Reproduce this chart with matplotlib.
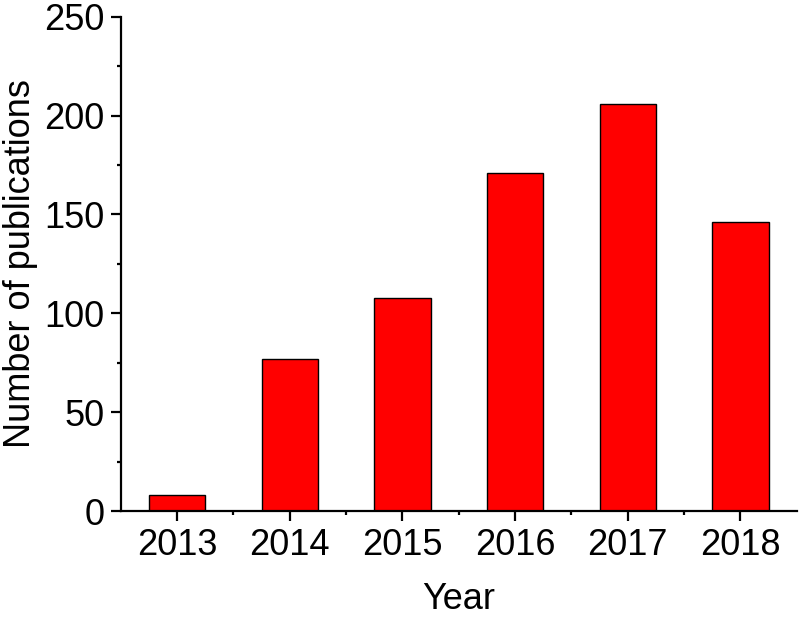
import matplotlib
matplotlib.use("Agg")
import matplotlib.pyplot as plt
from matplotlib.ticker import MultipleLocator, FixedLocator

plt.rcParams["font.family"] = ["Liberation Sans", "DejaVu Sans"]

years = ["2013", "2014", "2015", "2016", "2017", "2018"]
publications = [8, 77, 108, 171, 206, 146]

fig = plt.figure(figsize=(8, 6.18), dpi=100)
ax = fig.add_axes([0.151, 0.173, 0.845, 0.8])

pos = list(range(len(years)))
ax.bar(pos, publications, width=0.5, color="#ff0000", edgecolor="black", linewidth=1.0)

ax.set_xlim(-0.5, len(years) - 0.5)
ax.set_ylim(0, 250)
ax.set_xticks(pos)
ax.set_xticklabels(years)
ax.xaxis.set_minor_locator(FixedLocator([p + 0.5 for p in pos[:-1]]))
ax.yaxis.set_major_locator(MultipleLocator(50))
ax.yaxis.set_minor_locator(MultipleLocator(25))

for side in ["top", "right"]:
    ax.spines[side].set_visible(False)
for side in ["left", "bottom"]:
    ax.spines[side].set_linewidth(1.6)

ax.tick_params(which="major", direction="out", length=7, width=1.6, labelsize=26, pad=5)
ax.tick_params(which="minor", direction="out", length=3, width=1.6)

ax.set_xlabel("Year", fontsize=26, labelpad=14)
ax.set_ylabel("Number of publications", fontsize=26, labelpad=4)

fig.savefig("out.png", dpi=100)
